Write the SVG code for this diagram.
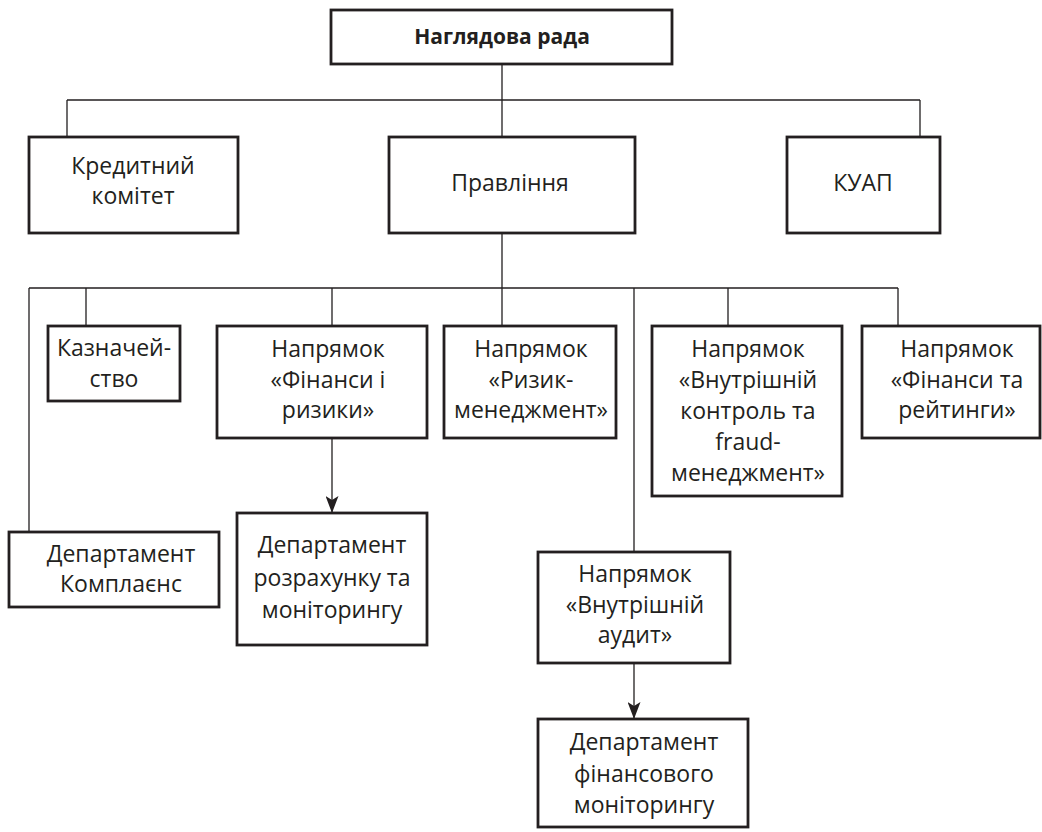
<svg xmlns="http://www.w3.org/2000/svg" width="1042" height="832" viewBox="0 0 1042 832">
<style>
.box{fill:#fff;stroke:#231f20;stroke-width:2.8}
.ln{fill:none;stroke:#231f20;stroke-width:1.3}
.t{font-family:"Open Sans","Noto Sans",sans-serif;font-size:23px;fill:#231f20;text-anchor:middle}
.b{font-weight:bold;font-size:21px}
</style>
<defs>
<marker id="arrD" markerWidth="13" markerHeight="17" refX="6.5" refY="17" orient="0" markerUnits="userSpaceOnUse" viewBox="0 0 13 17">
<path d="M0,0 L6.5,4 L13,0 L6.5,17 Z" fill="#231f20"/>
</marker>
</defs>
<g id="connectors">
<path class="ln" d="M502,64 V137 M67,100 H920 M67,100 V137 M920,100 V137"/>
<path class="ln" d="M502,233 V288 M29,288 H898 M29,288 V532 M86,288 V326 M332,288 V326 M502,288 V326 M634,288 V552 M728,288 V326 M898,288 V326"/>
<path class="ln" d="M332,438 V513" marker-end="url(#arrD)"/>
<path class="ln" d="M634,663 V719" marker-end="url(#arrD)"/>
</g>
<g id="nagl"><rect class="box" x="331" y="10" width="341" height="54"/><text class="t b" x="502" y="44">Наглядова рада</text></g>
<g id="kredyt"><rect class="box" x="29" y="137" width="209" height="96"/><text class="t" x="133" y="174">Кредитний</text><text class="t" x="133" y="204">комітет</text></g>
<g id="pravlinnia"><rect class="box" x="389" y="137" width="246" height="96"/><text class="t" x="510" y="191">Правління</text></g>
<g id="kuap"><rect class="box" x="787" y="137" width="153" height="96"/><text class="t" x="863" y="191">КУАП</text></g>
<g id="kazn"><rect class="box" x="48" y="326" width="132" height="75"/><text class="t" x="114" y="356">Казначей-</text><text class="t" x="114" y="387">ство</text></g>
<g id="fin-ryz"><rect class="box" x="217" y="326" width="210" height="112"/><text class="t" x="328" y="357">Напрямок</text><text class="t" x="328" y="388">«Фінанси і</text><text class="t" x="328" y="418">ризики»</text></g>
<g id="ryzyk"><rect class="box" x="444" y="326" width="172" height="112"/><text class="t" x="531" y="357">Напрямок</text><text class="t" x="531" y="388">«Ризик-</text><text class="t" x="531" y="418">менеджмент»</text></g>
<g id="vnutr-kontrol"><rect class="box" x="652" y="326" width="190" height="170"/><text class="t" x="748" y="357">Напрямок</text><text class="t" x="748" y="388">«Внутрішній</text><text class="t" x="748" y="419">контроль та</text><text class="t" x="748" y="450">fraud-</text><text class="t" x="748" y="481">менеджмент»</text></g>
<g id="fin-reit"><rect class="box" x="862" y="326" width="178" height="112"/><text class="t" x="957" y="357">Напрямок</text><text class="t" x="957" y="388">«Фінанси та</text><text class="t" x="957" y="418">рейтинги»</text></g>
<g id="komplaiens"><rect class="box" x="9" y="532" width="210" height="75"/><text class="t" x="121" y="562">Департамент</text><text class="t" x="121" y="592">Комплаєнс</text></g>
<g id="rozrakh"><rect class="box" x="237" y="513" width="190" height="132"/><text class="t" x="332" y="553">Департамент</text><text class="t" x="332" y="586">розрахунку та</text><text class="t" x="332" y="618">моніторингу</text></g>
<g id="audyt"><rect class="box" x="538" y="552" width="192" height="111"/><text class="t" x="635" y="582">Напрямок</text><text class="t" x="635" y="613">«Внутрішній</text><text class="t" x="635" y="643">аудит»</text></g>
<g id="finmon"><rect class="box" x="538" y="719" width="210" height="108"/><text class="t" x="644" y="750">Департамент</text><text class="t" x="644" y="782">фінансового</text><text class="t" x="644" y="813">моніторингу</text></g>
</svg>
